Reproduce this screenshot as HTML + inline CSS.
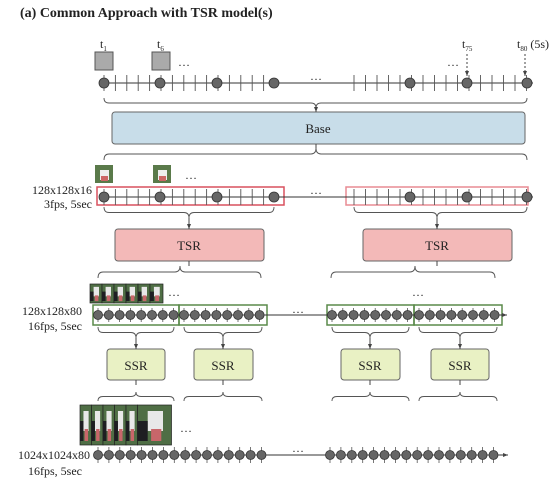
<!DOCTYPE html>
<html><head><meta charset="utf-8"><style>
body{margin:0;background:#fff}
svg{display:block}
text{font-family:"Liberation Serif",serif;fill:#222}
</style></head><body>
<svg id="s" width="555" height="491" viewBox="0 0 555 491" xmlns="http://www.w3.org/2000/svg">
<defs><marker id="a" markerWidth="6" markerHeight="6" refX="5" refY="3" orient="auto"><path d="M0,1 L5,3 L0,5z" fill="#444"/></marker></defs>
<text x="20" y="17" font-size="14" font-weight="bold">(a) Common Approach with TSR model(s)</text>
<!-- top frames -->
<rect x="95" y="52" width="18" height="18" fill="#aaa" stroke="#555"/>
<rect x="152" y="52" width="18" height="18" fill="#aaa" stroke="#555"/>
<text x="100" y="48" font-size="12">t<tspan font-size="7" dy="3">1</tspan></text>
<text x="157" y="48" font-size="12">t<tspan font-size="7" dy="3">6</tspan></text>
<text x="178" y="66" font-size="12">…</text>
<text x="447" y="66" font-size="12">…</text>
<text x="462" y="48" font-size="12">t<tspan font-size="7" dy="3">75</tspan></text>
<text x="517" y="48" font-size="12">t<tspan font-size="7" dy="3">80</tspan><tspan dy="-3"> (5s)</tspan></text>
<line x1="467" y1="54" x2="467" y2="76" stroke="#444" stroke-dasharray="2,2" marker-end="url(#a)"/>
<line x1="525" y1="54" x2="525" y2="76" stroke="#444" stroke-dasharray="2,2" marker-end="url(#a)"/>
<text x="310" y="80" font-size="12">…</text>
<text x="310" y="194" font-size="12">…</text>
<text x="185" y="179" font-size="12">…</text>
<rect x="112" y="112" width="413" height="32" rx="3" fill="#c8dde9" stroke="#666"/>
<text x="318" y="133" font-size="13" text-anchor="middle">Base</text>
<text x="92" y="194" font-size="12" text-anchor="end">128x128x16</text>
<text x="92" y="208" font-size="12" text-anchor="end">3fps, 5sec</text>
<rect x="95" y="165" width="18" height="18" fill="#5a7a4a"/><rect x="100" y="170" width="9" height="10" fill="#eee"/><rect x="101" y="176" width="7" height="5" fill="#c66"/>
<rect x="153" y="165" width="18" height="18" fill="#5a7a4a"/><rect x="158" y="170" width="9" height="10" fill="#eee"/><rect x="159" y="176" width="7" height="5" fill="#c66"/>
<rect x="97" y="187" width="187" height="18" fill="none" stroke="#d9515e" stroke-width="1.5"/>
<rect x="346" y="187" width="182" height="18" fill="none" stroke="#e88b93" stroke-width="1.5"/>
<rect x="115" y="229" width="149" height="32" rx="3" fill="#f3b9b8" stroke="#666"/>
<rect x="363" y="229" width="149" height="32" rx="3" fill="#f3b9b8" stroke="#666"/>
<text x="189" y="250" font-size="13" text-anchor="middle">TSR</text>
<text x="437" y="250" font-size="13" text-anchor="middle">TSR</text>
<text x="82" y="315" font-size="12" text-anchor="end">128x128x80</text>
<text x="82" y="330" font-size="12" text-anchor="end">16fps, 5sec</text>
<g id="strip3"></g>
<text x="168" y="296" font-size="12">…</text>
<text x="412" y="296" font-size="12">…</text>
<text x="292" y="313" font-size="12">…</text>
<rect x="93" y="305" width="86" height="20" fill="none" stroke="#5a8a4a" stroke-width="1.5"/>
<rect x="179" y="305" width="88" height="20" fill="none" stroke="#5a8a4a" stroke-width="1.5"/>
<rect x="327" y="305" width="87" height="20" fill="none" stroke="#5a8a4a" stroke-width="1.5"/>
<rect x="414" y="305" width="88" height="20" fill="none" stroke="#5a8a4a" stroke-width="1.5"/>
<g font-size="13" text-anchor="middle">
<rect x="107" y="349" width="58" height="31" rx="3" fill="#e9f1c4" stroke="#666"/><text x="136" y="370">SSR</text>
<rect x="194" y="349" width="59" height="31" rx="3" fill="#e9f1c4" stroke="#666"/><text x="223" y="370">SSR</text>
<rect x="341" y="349" width="59" height="31" rx="3" fill="#e9f1c4" stroke="#666"/><text x="370" y="370">SSR</text>
<rect x="431" y="349" width="58" height="31" rx="3" fill="#e9f1c4" stroke="#666"/><text x="460" y="370">SSR</text>
</g>
<text x="180" y="432" font-size="12">…</text>
<text x="292" y="452" font-size="12">…</text>
<text x="90" y="459" font-size="12" text-anchor="end">1024x1024x80</text>
<text x="82" y="475" font-size="12" text-anchor="end">16fps, 5sec</text>
</svg>
<script>
var s=document.getElementById('s'),NS='http://www.w3.org/2000/svg';
function el(t,a){var e=document.createElementNS(NS,t);for(var k in a)e.setAttribute(k,a[k]);s.appendChild(e);return e;}
function line(x1,y1,x2,y2,c,w,m){var e=el('line',{x1:x1,y1:y1,x2:x2,y2:y2,stroke:c||'#333','stroke-width':w||1});if(m)e.setAttribute('marker-end','url(#a)');}
function circ(x,y,r){el('circle',{cx:x,cy:y,r:r,fill:'#666',stroke:'#333','stroke-width':0.8});}
// brace: down=true apex below
function brace(x1,x2,y,h,down,cx){cx=cx||(x1+x2)/2;var d=down?1:-1,m=y+d*h/2,e=y+d*h,r=5;
el('path',{d:'M'+x1+','+y+' Q'+x1+','+m+' '+(x1+r)+','+m+' L'+(cx-r)+','+m+' Q'+cx+','+m+' '+cx+','+e+' Q'+cx+','+m+' '+(cx+r)+','+m+' L'+(x2-r)+','+m+' Q'+x2+','+m+' '+x2+','+y,fill:'none',stroke:'#555','stroke-width':0.9});}
function tickRow(y,x0,x1,circles){line(x0,y,x1,y,'#333',1);}
// top row and row2
[83,197].forEach(function(y){
 line(103,y,533,y,'#333',1,true);
 for(var x=104;x<=274;x+=11.4)line(x,y-8,x,y+8,'#555',0.9);
 for(var x=354;x<=527;x+=11.5)line(x,y-8,x,y+8,'#555',0.9);
 [104,160,217,274,410,467,527].forEach(function(x){circ(x,y,5);});
});
// braces
brace(104,527,98,10,true,316);line(316,108,316,112,'#444',1,true);
line(316,144,316,150,'#444',1);brace(104,527,160,12,false,316);
brace(104,274,207,11,true,189);line(189,218,189,229,'#444',1,true);
brace(354,527,207,11,true,437);line(437,218,437,229,'#444',1,true);
line(189,261,189,266,'#444',1);brace(98,261,278,12,false,180);
line(437,261,437,266,'#444',1);brace(331,495,278,12,false,415);
// row3
line(95,315,507,315,'#333',1,true);
[[98,8],[184,8],[332,8],[419,8]].forEach(function(g){for(var i=0;i<8;i++){var x=g[0]+i*10.8;line(x,308,x,322,'#555',0.8);circ(x,315,4.5);}});
[[98,174,136],[184,262,223],[332,409,370],[419,497,460]].forEach(function(b){
 brace(b[0],b[1],327,11,true,b[2]);line(b[2],338,b[2],349,'#444',1,true);
 line(b[2],380,b[2],385,'#444',1);brace(b[0],b[1],401,9,false,b[2]);});
// row4
line(96,455,508,455,'#333',1,true);
for(var i=0;i<16;i++){var x=98+i*10.9;line(x,447,x,463,'#555',0.8);circ(x,455,4.5);}
for(var i=0;i<16;i++){var x=330+i*10.9;line(x,447,x,463,'#555',0.8);circ(x,455,4.5);}
// image strips
function strip(x,y,w,h,n,lw){for(var i=0;i<n;i++){var xx=x+i*w;var big=(i==n-1);var ww=big?lw:w;
 el('rect',{x:xx,y:y,width:ww,height:h,fill:'#4f6e45',stroke:'#222','stroke-width':0.7});
 el('rect',{x:xx+ww*0.3,y:y+h*0.15,width:ww*0.45,height:h*0.5,fill:'#e8e8e8'});
 el('rect',{x:xx,y:y+h*0.4,width:ww*0.3,height:h*0.5,fill:'#1e1e22'});
 el('rect',{x:xx+ww*0.4,y:y+h*0.6,width:ww*0.3,height:h*0.3,fill:'#c8666a'});}}
strip(90,284,12,19,6,13);
strip(80,405,11.5,40,6,34);
</script>
</body></html>
